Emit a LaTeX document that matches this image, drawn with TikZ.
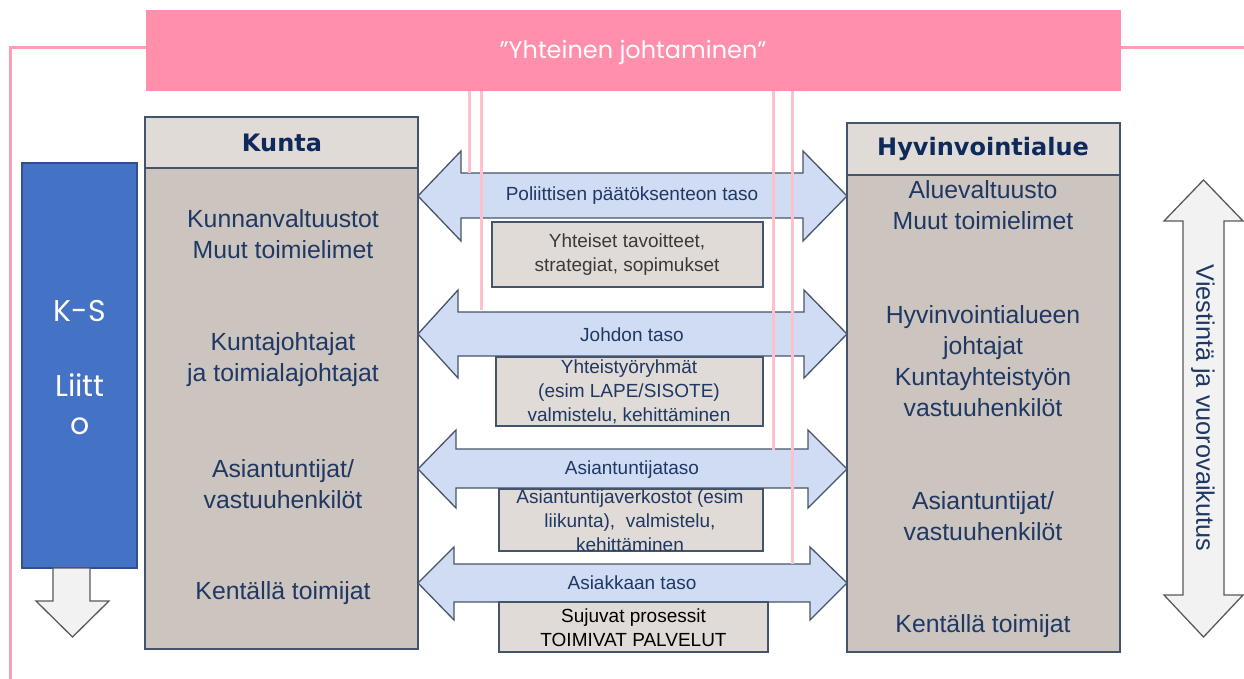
\documentclass[tikz,border=0pt]{standalone}
\usepackage{fontspec}
\setmainfont{Liberation Sans}
\newfontfamily\dvfont{DejaVu Sans}
\newfontfamily\popfont{Poppins}
\definecolor{bannerpink}{HTML}{FF8FAB}
\definecolor{linkpink}{HTML}{FF9DB5}
\definecolor{lightpink}{HTML}{FFC0CC}
\definecolor{hdrfill}{HTML}{E0DBD7}
\definecolor{bodyfill}{HTML}{CCC4BE}
\definecolor{cboxfill}{HTML}{E0DBD6}
\definecolor{boxline}{HTML}{44546A}
\definecolor{arrowfill}{HTML}{D0DCF4}
\definecolor{arrowline}{HTML}{475569}
\definecolor{navy}{HTML}{1F3864}
\definecolor{hdrnavy}{HTML}{0E2A5A}
\definecolor{ksblue}{HTML}{4472C4}
\definecolor{ksline}{HTML}{2F528F}
\definecolor{grayfill}{HTML}{F2F2F2}
\definecolor{grayline}{HTML}{555A60}
\definecolor{boxgray}{HTML}{3A3A3A}
\begin{document}
\begin{tikzpicture}[x=1pt,y=-1pt,
  pinkline/.style={draw=linkpink, line width=3pt},
  connline/.style={draw=lightpink, line width=3pt},
  hdrbox/.style={fill=hdrfill, draw=boxline, line width=1.3pt},
  bodybox/.style={fill=bodyfill, draw=boxline, line width=1.3pt},
  harrow/.style={fill=arrowfill, draw=arrowline, line width=1.3pt, line join=miter},
  grayarrow/.style={fill=grayfill, draw=grayline, line width=1.3pt, line join=miter},
  cbox/.style={fill=cboxfill, draw=boxline, line width=1.3pt},
  bodytxt/.style={text=navy, font=\fontsize{24.8}{31}\selectfont, align=center, inner sep=0pt},
  hdrtxt/.style={text=hdrnavy, font=\dvfont\bfseries\fontsize{24}{28}\selectfont, inner sep=0pt},
  arrtxt/.style={text=navy, font=\fontsize{19}{23}\selectfont, inner sep=0pt},
  boxtxt/.style={font=\fontsize{19}{24}\selectfont, align=center, inner sep=0pt},
  kstxt/.style={text=white, font=\popfont\fontsize{30}{34}\selectfont, inner sep=0pt, anchor=base}
]
\useasboundingbox (0,0) rectangle (1244,679);

% banner and outer pink line
\draw[pinkline] (146,48) -- (10,48) -- (10,679);
\draw[pinkline] (1121,48) -- (1244,48);
\fill[bannerpink] (146,10) rectangle (1121,91);
\node[text=white, font=\popfont\fontsize{24}{28}\selectfont, anchor=base, inner sep=0pt] (bannertxt) at (633,59) {”Yhteinen johtaminen”};

% Kunta box
\draw[bodybox] (145,168) rectangle (418,649);
\draw[hdrbox] (145,117) rectangle (418,168);
\node[hdrtxt] (kunta) at (282,143) {Kunta};
\node[bodytxt] (k1) at (283,234) {Kunnanvaltuustot\\Muut toimielimet};
\node[bodytxt] (k2) at (283,360) {Kuntajohtajat\\ja toimialajohtajat};
\node[bodytxt] (k3) at (283,484) {Asiantuntijat/\\vastuuhenkilöt};
\node[bodytxt] (k4) at (283,593) {Kentällä toimijat};

% Hyvinvointialue box
\draw[bodybox] (847,175) rectangle (1120,652);
\draw[hdrbox] (847,123) rectangle (1120,175);
\node[hdrtxt] (hva) at (983,149) {Hyvinvointialue};
\node[bodytxt] (h1) at (983,205) {Aluevaltuusto\\Muut toimielimet};
\node[bodytxt] (h2) at (983,361) {Hyvinvointialueen\\johtajat\\Kuntayhteistyön\\vastuuhenkilöt};
\node[bodytxt] (h3) at (983,516) {Asiantuntijat/\\vastuuhenkilöt};
\node[bodytxt] (h4) at (983,626) {Kentällä toimijat};

% K-S Liitto
\draw[fill=ksblue, draw=ksline, line width=1.5pt] (22,163) rectangle (137,568);
\node[kstxt] (ks1) at (80,321) {K-S};
\node[kstxt] (ks2) at (80,396) {Liitt};
\node[kstxt] (ks3) at (80,434) {o};
\draw[grayarrow] (53,568) -- (90,568) -- (90,601) -- (109,601) -- (72.5,637) -- (36,601) -- (53,601) -- cycle;

% double arrows
\draw[harrow] (418,196) -- (461,151) -- (461,173) -- (803,173) -- (803,151) -- (847,196) -- (803,241) -- (803,218) -- (461,218) -- (461,241) -- cycle;
\draw[harrow] (418,334) -- (458,290) -- (458,312) -- (804,312) -- (804,290) -- (847,334) -- (804,378) -- (804,356) -- (458,356) -- (458,378) -- cycle;
\draw[harrow] (418,469) -- (456,430) -- (456,449) -- (808,449) -- (808,430) -- (847,469) -- (808,508) -- (808,488) -- (456,488) -- (456,508) -- cycle;
\draw[harrow] (418,583) -- (454,547) -- (454,564) -- (810,564) -- (810,547) -- (847,583) -- (810,620) -- (810,602) -- (454,602) -- (454,620) -- cycle;
\node[arrtxt] (a1) at (632,196) {Poliittisen päätöksenteon taso};
\node[arrtxt] (a2) at (632,335) {Johdon taso};
\node[arrtxt] (a3) at (632,470) {Asiantuntijataso};
\node[arrtxt] (a4) at (632,583) {Asiakkaan taso};

% centre boxes
\draw[cbox] (492,222) rectangle (763,287);
\node[boxtxt, text=boxgray] (b1) at (627,255) {Yhteiset tavoitteet,\\strategiat, sopimukset};
\draw[cbox] (496,357) rectangle (763,426);
\node[boxtxt, text=navy] (b2) at (629,392) {Yhteistyöryhmät\\(esim LAPE/SISOTE)\\valmistelu, kehittäminen};
\draw[cbox] (499,489) rectangle (763,551);
\node[boxtxt, text=navy] (b3) at (630,521) {Asiantuntijaverkostot (esim\\liikunta),\ \ valmistelu,\\kehittäminen};
\draw[cbox] (499,602) rectangle (768,652);
\node[boxtxt, text=black] (b4) at (633.5,628) {Sujuvat prosessit\\TOIMIVAT PALVELUT};

% pink connecting lines
\draw[connline] (469,91) -- (469,173);
\draw[connline] (481,91) -- (481,310);
\draw[connline] (773,91) -- (773,450);
\draw[connline] (792,91) -- (792,564);

% right vertical double arrow
\draw[grayarrow] (1203.5,180) -- (1243,221) -- (1224,221) -- (1224,595) -- (1243,595) -- (1203.5,637) -- (1164,595) -- (1183,595) -- (1183,221) -- (1164,221) -- cycle;
\node[rotate=-90, text=navy, font=\fontsize{25.3}{30}\selectfont, inner sep=0pt] (vt) at (1203,408) {Viestintä ja vuorovaikutus};
\end{tikzpicture}
\end{document}
